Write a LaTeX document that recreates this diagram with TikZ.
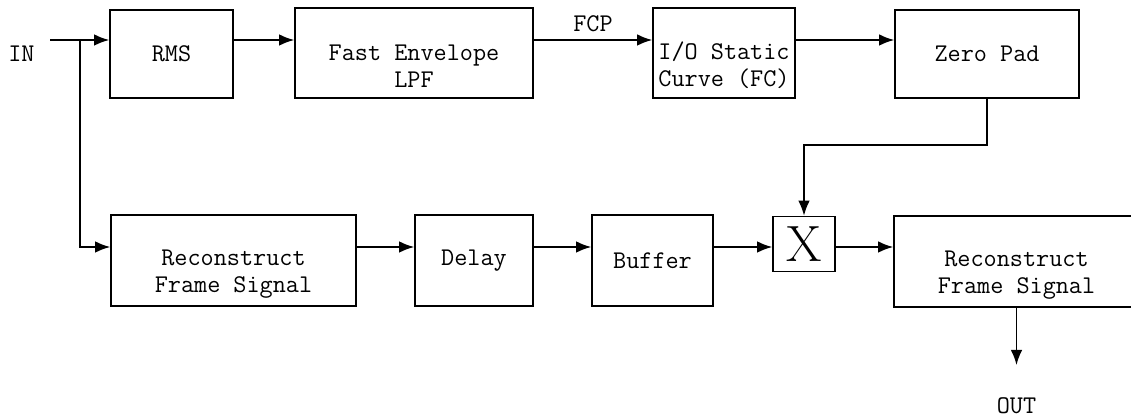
\documentclass[tikz,border=0pt]{standalone}
\usepackage{fontspec}
\usetikzlibrary{arrows.meta}
\newcommand{\lowline}{\rule{0pt}{0.84cm}}
\begin{document}
\begin{tikzpicture}[>={Latex[length=3mm,width=2.3mm]}, line width=0.9pt,
    blk/.style={draw, align=center, inner sep=0pt, font=\ttfamily\fontsize{14.5}{15.4}\selectfont},
    lbl/.style={font=\ttfamily\fontsize{14.5}{15.4}\selectfont}]
        \useasboundingbox (0,0) rectangle (22.62,-8.38);
        % upper row
        \node[blk, minimum width=2.46cm, minimum height=1.76cm] (rms) at (3.43,-1.08) {RMS};
        \node[blk, minimum width=4.76cm, minimum height=1.8cm] (lpf) at (8.28,-1.06) {\lowline Fast Envelope\\LPF};
        \node[blk, minimum width=2.84cm, minimum height=1.8cm] (curve) at (14.48,-1.06) {\lowline I/O Static\\Curve (FC)};
        \node[blk, minimum width=3.68cm, minimum height=1.76cm] (pad) at (19.74,-1.08) {Zero Pad};
        % lower row
        \node[blk, minimum width=4.9cm, minimum height=1.82cm] (rec) at (4.67,-5.21) {\lowline Reconstruct\\Frame Signal};
        \node[blk, minimum width=2.36cm, minimum height=1.82cm] (delay) at (9.48,-5.21) {Delay};
        \node[blk, minimum width=2.42cm, minimum height=1.82cm] (buf) at (13.05,-5.21) {Buffer};
        \node[draw, minimum width=1.24cm, minimum height=1.1cm, inner sep=0pt, font=\fontsize{29}{30}\selectfont] (mul) at (16.08,-4.88) {X};
        \node[blk, minimum width=4.9cm, minimum height=1.82cm] (out) at (20.33,-5.23) {\lowline Reconstruct\\Frame Signal};
        % terminals
        \node[lbl] (in) at (0.43,-1.08) {IN};
        \node[lbl, inner sep=1pt] (outlbl) at (20.33,-8.12) {OUT};
        \coordinate (top) at (0,-0.8);
        \coordinate (bot) at (0,-4.94);
        \coordinate (start) at (1.0,-0.8);
        \coordinate (split) at (1.6,-0.8);
        \coordinate (tip) at (20.33,-7.3);
        \coordinate (bend) at (0,-2.9);
        % connectors
        \draw[->] (start) -- (rms.west |- top);
        \draw[->] (split) -- (split |- bot) -- (rec.west |- bot);
        \draw[->] (rms.east |- top) -- (lpf.west |- top);
        \draw[->] (lpf.east |- top) -- node[lbl, above=1pt] (fcp) {FCP} (curve.west |- top);
        \draw[->] (curve.east |- top) -- (pad.west |- top);
        \draw[->] (pad.south) -- (pad.south |- bend) -- (mul.north |- bend) -- (mul.north);
        \draw[->] (rec.east |- bot) -- (delay.west |- bot);
        \draw[->] (delay.east |- bot) -- (buf.west |- bot);
        \draw[->] (buf.east |- bot) -- (mul.west |- bot);
        \draw[->] (mul.east |- bot) -- (out.west |- bot);
        \draw[->] (out.south) -- (tip);
    \end{tikzpicture}
\end{document}
